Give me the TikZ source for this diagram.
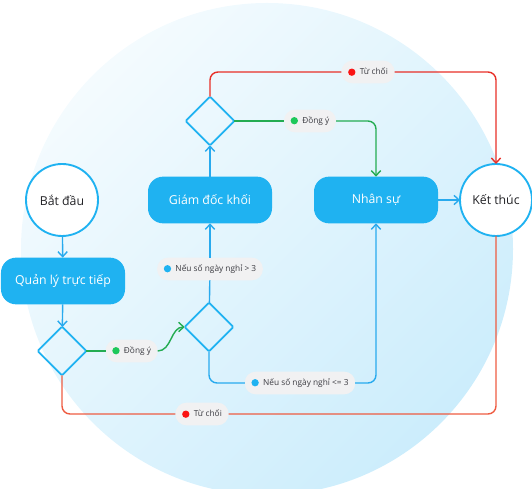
\documentclass[tikz,border=0pt]{standalone}
\usepackage{fontspec}
\setmainfont{Open Sans}
\usepackage{tikz}
\usetikzlibrary{positioning}
\usetikzlibrary{shapes.geometric}
\usetikzlibrary{arrows.meta}
\definecolor{FlowBlue}{RGB}{31,178,241}
\definecolor{FlowLine}{RGB}{40,170,238}
\definecolor{FlowGreen}{RGB}{36,172,82}
\definecolor{FlowGreenDot}{RGB}{30,200,90}
\definecolor{FlowRed}{RGB}{232,48,40}
\definecolor{FlowRedSoft}{RGB}{238,92,66}
\definecolor{FlowRedDot}{RGB}{250,20,20}
\definecolor{FlowInk}{RGB}{34,34,38}
\definecolor{FlowTag}{RGB}{241,241,242}
\definecolor{FlowTagInk}{RGB}{60,60,66}
\definecolor{FlowSky}{RGB}{204,237,252}
\definecolor{FlowSkyPale}{RGB}{244,251,254}
\newcommand{\flowdot}[1]{\tikz[baseline=-0.6ex]\fill[#1] (0,0) circle (0.11cm);\hspace{0.13cm}}

\begin{document}
\begin{tikzpicture}[
x=1cm,
y=1cm,
every node/.style={font=\fontsize{10.5}{12}\selectfont,text=FlowInk,outer sep=0pt},
terminal/.style={circle,draw=FlowBlue,fill=white,line width=1.6pt,minimum size=2.16cm,inner sep=0pt},
task/.style={fill=FlowBlue,text=white,rounded corners=0.45cm,minimum width=3.72cm,minimum height=1.40cm,inner sep=0pt},
gate/.style={diamond,draw=FlowBlue,line width=1.5pt,minimum width=1.46cm,minimum height=1.46cm,inner sep=0pt,rounded corners=1pt},
tag/.style={fill=FlowTag,rounded corners=0.33cm,minimum height=0.68cm,inner xsep=0.2cm,inner ysep=0pt,font=\fontsize{7.1}{8.5}\selectfont,text=FlowTagInk},
blueline/.style={line width=1.2pt,draw=FlowLine,rounded corners=0.24cm},
blueflow/.style={blueline,-{Straight Barb[length=1.5mm,width=2.8mm]}},
greenline/.style={line width=1.2pt,draw=FlowGreen,rounded corners=0.24cm},
greenflow/.style={greenline,-{Straight Barb[length=1.5mm,width=2.8mm]}},
redline/.style={line width=1.2pt,draw=FlowRed,rounded corners=0.24cm},
redflow/.style={redline,-{Straight Barb[length=1.5mm,width=2.8mm]}},
redsoft/.style={line width=1.2pt,draw=FlowRedSoft,rounded corners=0.24cm}
]

\path[use as bounding box] (0,0) rectangle (15.96,14.67);

\shade[top color=FlowSkyPale,bottom color=FlowSky,shading angle=45] (8.01,7.20) circle (7.38);

\node[terminal] (start) at (1.86,8.67) {Bắt đầu};
\node[task] (mgr) at (1.89,6.24) {Quản lý trực tiếp};
\node[gate] (dec1) at (1.86,4.14) {};
\node[gate] (dec2) at (6.27,4.86) {};
\node[task] (head) at (6.30,8.67) {Giám đốc khối};
\node[gate] (dec3) at (6.30,11.04) {};
\node[task] (hr) at (11.28,8.67) {Nhân sự};
\node[terminal] (endc) at (14.88,8.67) {Kết thúc};

\node[tag] (agree1) at (3.95,4.14) {\flowdot{FlowGreenDot}Đồng ý};
\node[tag] (over3) at (6.30,6.60) {\flowdot{FlowBlue}Nếu số ngày nghỉ > 3};
\node[tag] (under3) at (9.00,3.18) {\flowdot{FlowBlue}Nếu số ngày nghỉ <= 3};
\node[tag] (agree3) at (9.30,11.04) {\flowdot{FlowGreenDot}Đồng ý};
\node[tag] (rejtop) at (11.04,12.51) {\flowdot{FlowRedDot}Từ chối};
\node[tag] (rejbot) at (6.06,2.25) {\flowdot{FlowRedDot}Từ chối};

\draw[blueflow] (start) -- (mgr);
\draw[blueflow] (mgr) -- (dec1);

\draw[greenline] (dec1) -- (agree1);
\draw[greenflow] (agree1.east) to[out=0,in=180] (dec2.west);

\draw[blueline] (dec2) -- (over3);
\draw[blueflow] (over3) -- (head);
\draw[blueline] (dec2.south) |- (under3.west);
\draw[blueflow] (under3.east) -| (hr.south);

\draw[blueflow] (head) -- (dec3);
\draw[greenline] (dec3) -- (agree3);
\draw[greenflow] (agree3.east) -| (hr.north);

\draw[redline] (dec3.north) |- (rejtop.west);
\draw[redflow] (rejtop.east) -| (endc.north);

\draw[redsoft] (dec1.south) |- (rejbot.west);
\draw[redsoft] (rejbot.east) -| (endc.south);

\draw[blueflow] (hr) -- (endc);

\end{tikzpicture}
\end{document}
